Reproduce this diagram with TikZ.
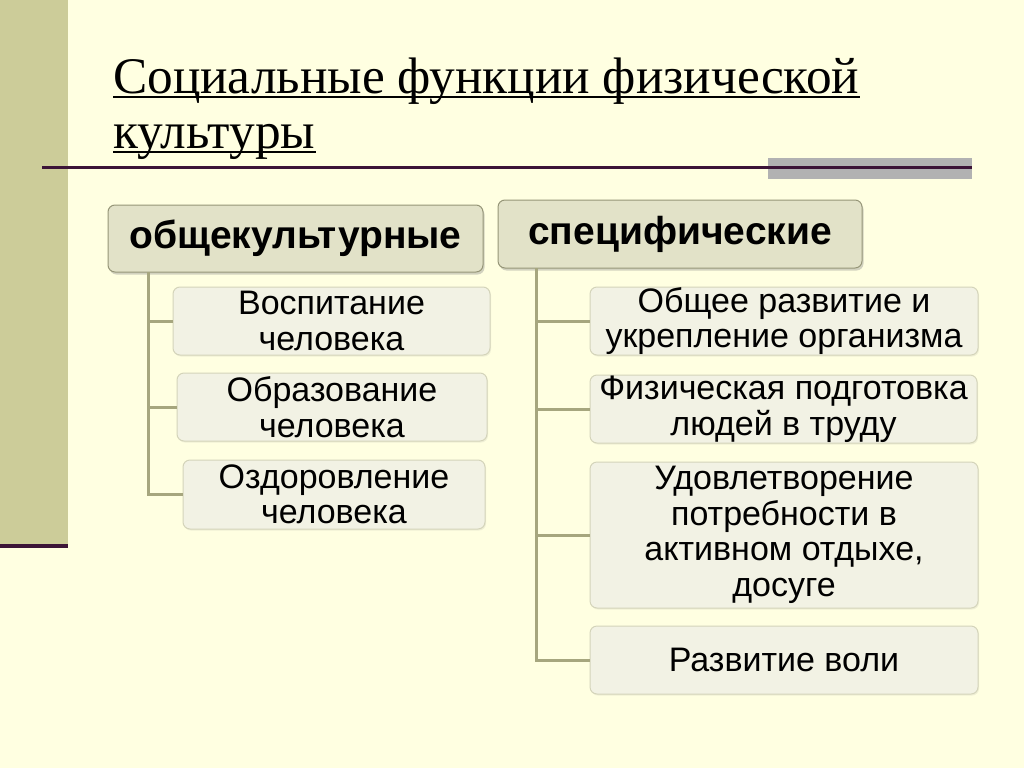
\documentclass[tikz,border=0pt]{standalone}
\usepackage{fontspec}
\setmainfont{Liberation Serif}
\newfontfamily\sansfont{Liberation Sans}
\usepackage{tikz}
\usetikzlibrary{shadows}

\definecolor{slidebg}{RGB}{255,255,225}
\definecolor{sidebar}{RGB}{204,204,153}
\definecolor{plum}{RGB}{60,20,55}
\definecolor{bargray}{RGB}{178,178,178}
\definecolor{headfill}{RGB}{226,226,200}
\definecolor{headline}{RGB}{150,150,120}
\definecolor{itemfill}{RGB}{242,242,228}
\definecolor{itemline}{RGB}{212,212,186}
\definecolor{branch}{RGB}{166,166,126}

\tikzset{
  headbox/.style={draw=headline, fill=headfill, rounded corners=7pt, line width=1pt,
    drop shadow={opacity=0.35, shadow xshift=1.5pt, shadow yshift=-2.5pt},
    font=\sansfont\bfseries\fontsize{39}{44}\selectfont, inner sep=0pt},
  itembox/.style={draw=itemline, fill=itemfill, rounded corners=7pt, line width=1pt,
    drop shadow={opacity=0.12, shadow xshift=1pt, shadow yshift=-1.5pt},
    font=\sansfont\fontsize{34}{35.5}\selectfont, align=center, inner sep=0pt},
  branchline/.style={draw=branch, line width=3pt},
  titletext/.style={font=\fontsize{51.3}{55}\selectfont, inner sep=0pt, anchor=base west}
}

\begin{document}
\begin{tikzpicture}[x=1pt,y=1pt]
            \useasboundingbox (0,0) rectangle (1024,-768);
            \fill [slidebg] (0,0) rectangle (1024,-768);
            \fill [sidebar] (0,0) rectangle (68,-548);
            \draw [plum, line width=4pt] (0,-546) -- (68,-546);
            \fill [bargray] (768,-158) rectangle (972,-179);
            \draw [plum, line width=3pt] (42,-167) -- (972,-167);
            % title
            \node [titletext] (title1) at (113,-93) {Социальные функции физической};
            \node [titletext] (title2) at (113,-148) {культуры};
            \draw [line width=2.8pt] ([yshift=-4pt]title1.base west) -- ([yshift=-4pt]title1.base east);
            \draw [line width=2.8pt] ([yshift=-4pt]title2.base west) -- ([yshift=-4pt]title2.base east);
            % headers
            \node [headbox, minimum width=375pt, minimum height=67pt] (common) at (295.5,-238.5) {общекультурные};
            \node [headbox, minimum width=364pt, minimum height=68pt] (special) at (680,-234) {специфические};
            % general functions
            \node [itembox, minimum width=317pt, minimum height=68pt] (upbr) at (331.5,-321) {Воспитание\\человека};
            \node [itembox, minimum width=310pt, minimum height=68pt] (educ) at (332,-407) {Образование\\человека};
            \node [itembox, minimum width=302pt, minimum height=69pt] (heal) at (334,-494.5) {Оздоровление\\человека};
            % specific functions
            \node [itembox, minimum width=388pt, minimum height=68pt] (devel) at (784,-321) {Общее развитие и\\укрепление организма};
            \node [itembox, minimum width=387pt, minimum height=68pt] (train) at (783.5,-409) {Физическая подготовка\\людей в труду};
            \node [itembox, minimum width=388pt, minimum height=146pt] (rest) at (784,-535) {Удовлетворение\\потребности в\\активном отдыхе,\\досуге};
            \node [itembox, minimum width=388pt, minimum height=68pt] (will) at (784,-660) {Развитие воли};
            % branches
            \coordinate (ltrunk) at (148,-272);
            \coordinate (rtrunk) at (536,-268);
            \draw [branchline] (ltrunk) |- (upbr.west);
            \draw [branchline] (ltrunk) |- (educ.west);
            \draw [branchline] (ltrunk) |- (heal.west);
            \draw [branchline] (rtrunk) |- (devel.west);
            \draw [branchline] (rtrunk) |- (train.west);
            \draw [branchline] (rtrunk) |- (rest.west);
            \draw [branchline] (rtrunk) |- (will.west);
        \end{tikzpicture}
\end{document}
